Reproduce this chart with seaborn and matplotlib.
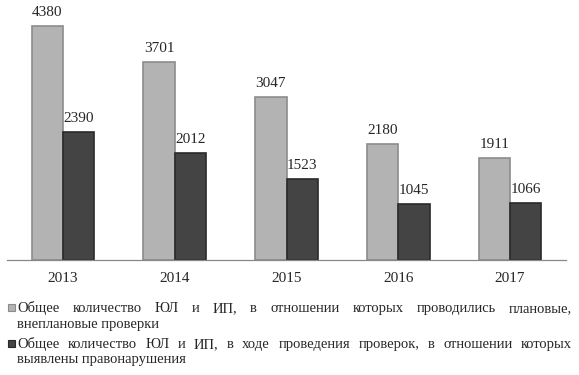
import matplotlib
matplotlib.use("Agg")
import matplotlib.pyplot as plt
import matplotlib.patches as mpatches
import pandas as pd
import seaborn as sns

years = ["2013", "2014", "2015", "2016", "2017"]
planned = [4380, 3701, 3047, 2180, 1911]
violations = [2390, 2012, 1523, 1045, 1066]
series_names = [
    "Общее количество ЮЛ и ИП, в отношении которых проводились плановые, внеплановые проверки",
    "Общее количество ЮЛ и ИП, в ходе проведения проверок, в отношении которых выявлены правонарушения",
]
# first-line / second-line split of each legend entry (justified first line)
legend_lines = [
    ("Общее количество ЮЛ и ИП, в отношении которых проводились плановые,", "внеплановые проверки"),
    ("Общее количество ЮЛ и ИП, в ходе проведения проверок, в отношении которых", "выявлены правонарушения"),
]
colors = ["#b3b3b3", "#444444"]
edge_colors = ["#8c8c8c", "#2a2a2a"]

df = pd.DataFrame({
    "year": years * 2,
    "value": planned + violations,
    "series": [series_names[0]] * len(years) + [series_names[1]] * len(years),
})

sns.set_style("white")
plt.rcParams["font.family"] = ["Liberation Serif", "DejaVu Serif"]

W, H = 579, 375
fig = plt.figure(figsize=(W / 100, H / 100), dpi=100)
ax = fig.add_axes([7 / W, 1 - 260 / H, (566 - 7) / W, 255 / H])

sns.barplot(data=df, x="year", y="value", hue="series", palette=colors,
            width=0.56, ax=ax, legend=False, saturation=1)

for cont, ec in zip(ax.containers, edge_colors):
    for bar in cont:
        bar.set_edgecolor(ec)
        bar.set_linewidth(1.2)
    ax.bar_label(cont, padding=5, fontsize=11)

ax.set_xlim(-0.5, 4.5)
ax.set_ylim(0, 4773)
ax.set_xlabel("")
ax.set_ylabel("")
ax.set_yticks([])
for side in ["left", "right", "top"]:
    ax.spines[side].set_visible(False)
ax.spines["bottom"].set_color("#888888")
ax.spines["bottom"].set_linewidth(0.9)
ax.set_xticks(range(len(years)))
ax.set_xticklabels(years, fontsize=11)
ax.tick_params(axis="x", which="major", length=0, pad=9)
ax.set_xticks([i - 0.5 for i in range(len(years) + 1)], minor=True)
ax.tick_params(axis="x", which="minor", length=4, color="#888888", width=0.9)

# legend below the axes, first line justified to the right edge
renderer = fig.canvas.get_renderer()
x_left, x_right = 17, 572
line_y = [(312, 328), (348, 363)]  # baselines
fs = 10.5
for (first, second), (y1, y2), col, ec in zip(legend_lines, line_y, colors, edge_colors):
    fig.patches.append(mpatches.Rectangle((8 / W, 1 - (y1 - 1) / H), 7 / W, 7 / H,
                                          transform=fig.transFigure, facecolor=col,
                                          edgecolor=ec, linewidth=0.8))
    words = first.split(" ")
    texts = [fig.text(0, 1 - y1 / H, w, fontsize=fs, va="baseline", ha="left") for w in words]
    widths = [t.get_window_extent(renderer).width for t in texts]
    gap = (x_right - x_left - sum(widths)) / (len(words) - 1)
    x = x_left
    for t, w in zip(texts, widths):
        t.set_x(x / W)
        x += w + gap
    fig.text(x_left / W, 1 - y2 / H, second, fontsize=fs, va="baseline", ha="left")

fig.savefig("out.png", dpi=100)
